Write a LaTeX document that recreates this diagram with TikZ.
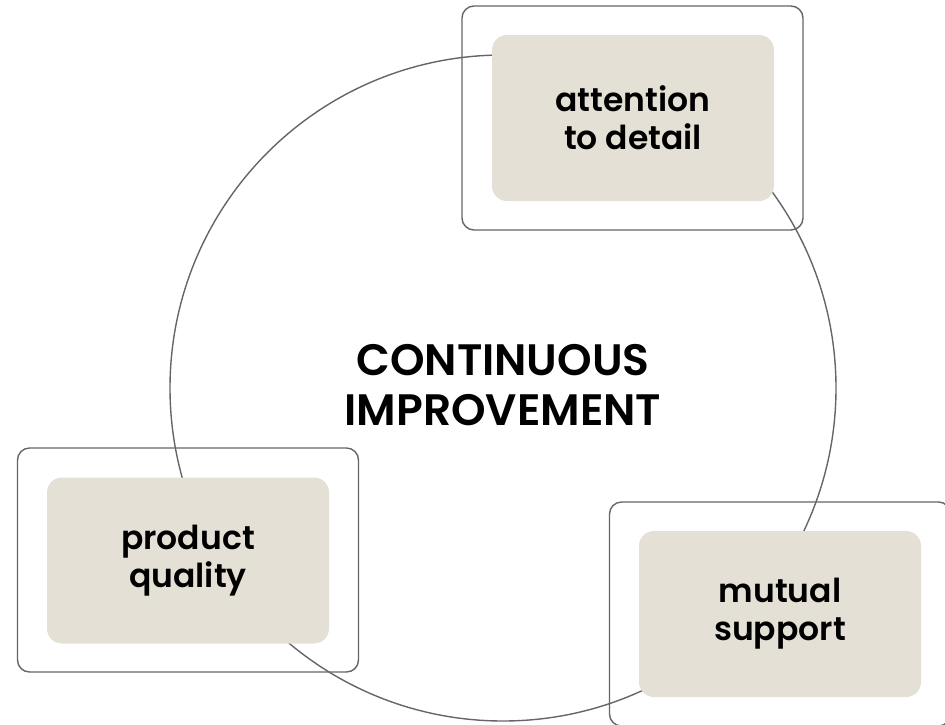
\documentclass[tikz,border=0pt]{standalone}
\usepackage{fontspec}
\setmainfont{Poppins}[BoldFont={Poppins SemiBold}]
\usetikzlibrary{positioning}
\definecolor{boxfill}{HTML}{E5E0D5}
\definecolor{linegray}{HTML}{666666}
\tikzset{
  ringline/.style={draw=linegray, line width=1.4pt},
  outerbox/.style={draw=linegray, line width=1.4pt, rounded corners=12pt, minimum width=341pt, minimum height=224pt, inner sep=0pt},
  innerbox/.style={fill=boxfill, rounded corners=15pt, minimum width=282pt, minimum height=166pt, align=center, inner sep=0pt,
     font=\fontsize{33}{38}\selectfont\bfseries},
  centertext/.style={align=center, font=\fontsize{44}{50}\selectfont\bfseries}
}
\begin{document}
\begin{tikzpicture}[x=1pt,y=-1pt]
\useasboundingbox (0,0) rectangle (945,724);
\fill[white] (0,0) rectangle (945,724);
\node[ringline, circle, minimum size=666pt, inner sep=0pt] (ring) at (503,388) {};
\node[centertext] (center) at (503,385) {CONTINUOUS\\IMPROVEMENT};
\node[outerbox] (attouter) at (632.5,118) {};
\node[outerbox] (prodouter) at (188,560) {};
\node[outerbox] (mutouter) at (780,614) {};
\node[innerbox] (att) at (633,118) {attention\\to detail};
\node[innerbox] (prod) at (188,560.5) {product\\quality};
\node[innerbox] (mut) at (780,614) {mutual\\support};
\end{tikzpicture}
\end{document}
